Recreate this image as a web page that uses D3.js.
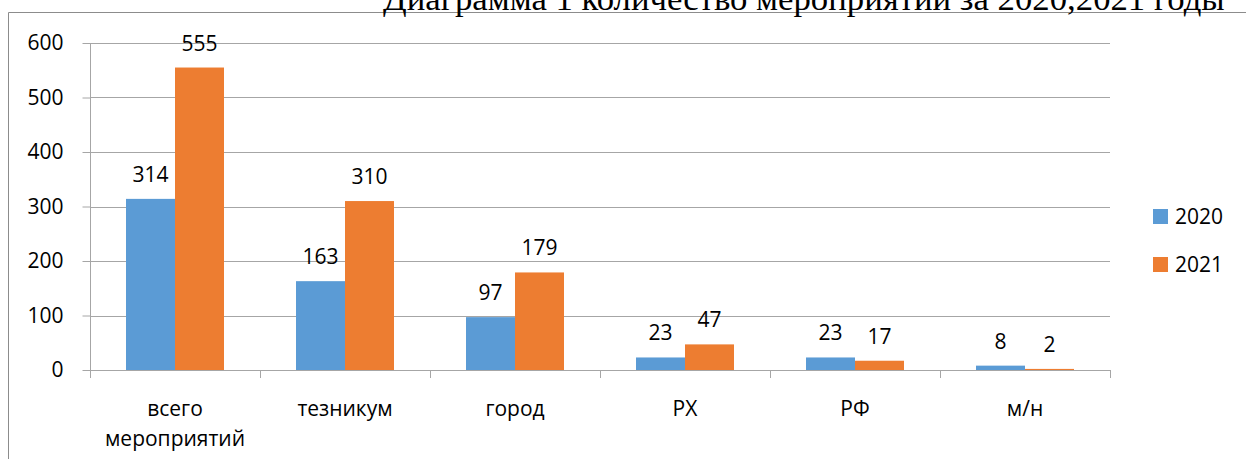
<!DOCTYPE html>
<html>
<head>
<meta charset="utf-8">
<script src="https://cdn.jsdelivr.net/npm/d3@7"></script>
<style>
  body { margin: 0; background: #fff; }
  svg { display: block; }
</style>
</head>
<body>
<svg id="chart" width="1246" height="459"></svg>
<script>
const title = "Диаграмма 1 количество мероприятий за 2020,2021 годы";
const categories = ["всего мероприятий", "тезникум", "город", "РХ", "РФ", "м/н"];
const seriesNames = ["2020", "2021"];
const values2020 = [314, 163, 97, 23, 23, 8];
const values2021 = [555, 310, 179, 47, 17, 2];
const yTicks = [0, 100, 200, 300, 400, 500, 600];
const colors = ["#5b9bd5", "#ed7d31"];

const svg = d3.select('#chart');
const font = '"Open Sans", sans-serif';

const margin = { left: 90, right: 136, top: 43, bottom: 89 };
const width = 1246, height = 459;

const x = d3.scaleBand()
  .domain(categories)
  .range([margin.left, width - margin.right]);

// two bars side by side, centred in each category band
const xInner = d3.scaleBand()
  .domain(seriesNames)
  .range([0, x.bandwidth()])
  .paddingInner(0)
  .paddingOuter(0.735);

const y = d3.scaleLinear()
  .domain([0, 600])
  .range([height - margin.bottom, margin.top]);

// chart frame (only top and left are visible)
svg.append('path')
  .attr('d', `M8.5,${height} V12.5 H${width}`)
  .attr('fill', 'none')
  .attr('stroke', '#8c8c8c')
  .attr('stroke-width', 1);

// title, clipped by the top of the page like in the source
const titleText = svg.append('text')
  .attr('x', 383)
  .attr('y', 10)
  .attr('font-family', '"Liberation Serif", "Times New Roman", serif')
  .attr('font-size', 30)
  .attr('fill', '#000')
  .text(title);
const tw = titleText.node().getComputedTextLength();
titleText.attr('font-size', 30 * 842 / tw);

// gridlines
svg.append('g')
  .selectAll('line')
  .data(yTicks.filter(d => d > 0))
  .join('line')
  .attr('x1', margin.left)
  .attr('x2', width - margin.right)
  .attr('y1', d => Math.round(y(d)) + 0.5)
  .attr('y2', d => Math.round(y(d)) + 0.5)
  .attr('stroke', '#a6a6a6')
  .attr('stroke-width', 1);

// y axis
const yAxis = svg.append('g')
  .attr('transform', `translate(${margin.left + 0.5},0)`)
  .call(d3.axisLeft(y).tickValues(yTicks).tickSize(8).tickPadding(19));
yAxis.select('.domain').attr('stroke', '#a6a6a6').attr('d', `M0,${y(0)}V${y(600)}`);
yAxis.selectAll('.tick line').attr('stroke', '#a6a6a6');
yAxis.selectAll('.tick text')
  .attr('font-family', font)
  .attr('font-size', 21)
  .attr('fill', '#000');

// bars
const groups = svg.append('g')
  .selectAll('g')
  .data(categories.map((c, i) => ({ cat: c, vals: [values2020[i], values2021[i]] })))
  .join('g')
  .attr('transform', d => `translate(${x(d.cat)},0)`);

groups.selectAll('rect')
  .data(d => d.vals.map((v, j) => ({ v, s: seriesNames[j], j })))
  .join('rect')
  .attr('x', d => xInner(d.s))
  .attr('y', d => y(d.v))
  .attr('width', xInner.bandwidth())
  .attr('height', d => y(0) - y(d.v))
  .attr('fill', d => colors[d.j]);

groups.selectAll('text.val')
  .data(d => d.vals.map((v, j) => ({ v, s: seriesNames[j] })))
  .join('text')
  .attr('class', 'val')
  .attr('x', d => xInner(d.s) + xInner.bandwidth() / 2)
  .attr('y', d => y(d.v) - 17)
  .attr('text-anchor', 'middle')
  .attr('font-family', font)
  .attr('font-size', 21)
  .attr('fill', '#000')
  .text(d => d.v);

// x axis
const xAxisY = y(0);
svg.append('line')
  .attr('x1', margin.left)
  .attr('x2', width - margin.right)
  .attr('y1', Math.round(xAxisY) + 0.5)
  .attr('y2', Math.round(xAxisY) + 0.5)
  .attr('stroke', '#a6a6a6');

const boundaries = categories.map(c => x(c)).concat([x.range()[1]]);
svg.append('g')
  .selectAll('line')
  .data(boundaries)
  .join('line')
  .attr('x1', d => Math.round(d) + 0.5)
  .attr('x2', d => Math.round(d) + 0.5)
  .attr('y1', xAxisY)
  .attr('y2', xAxisY + 8)
  .attr('stroke', '#a6a6a6');

const catLabels = svg.append('g')
  .selectAll('text')
  .data(categories)
  .join('text')
  .attr('x', d => x(d) + x.bandwidth() / 2)
  .attr('y', 416)
  .attr('text-anchor', 'middle')
  .attr('font-family', font)
  .attr('font-size', 21)
  .attr('fill', '#000');

catLabels.each(function(d) {
  const words = d.split(' ');
  const t = d3.select(this);
  words.forEach((w, i) => {
    t.append('tspan')
      .attr('x', x(d) + x.bandwidth() / 2)
      .attr('dy', i === 0 ? 0 : 30)
      .text(w);
  });
});

// legend
const legend = svg.append('g')
  .selectAll('g')
  .data(seriesNames)
  .join('g')
  .attr('transform', (d, i) => `translate(1153,${209 + i * 48})`);

legend.append('rect')
  .attr('width', 15)
  .attr('height', 15)
  .attr('fill', (d, i) => colors[i]);

legend.append('text')
  .attr('x', 22)
  .attr('y', 15)
  .attr('font-family', font)
  .attr('font-size', 21)
  .attr('fill', '#000')
  .text(d => d);
</script>
</body>
</html>
